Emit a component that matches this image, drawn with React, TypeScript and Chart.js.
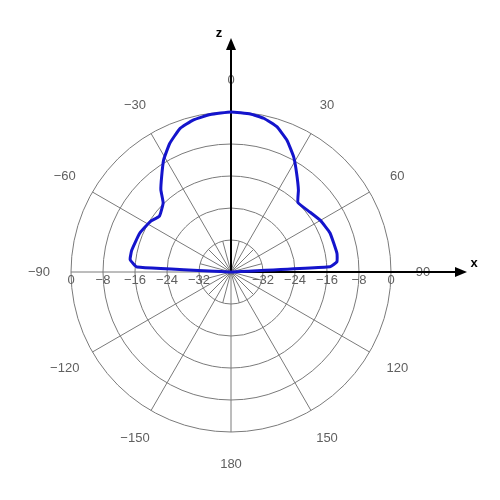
import React, { useEffect, useRef } from "react";
import { Chart, registerables } from "chart.js";

Chart.register(...registerables);

// Radiation pattern (angle from z axis, degrees; gain, dB)
const angleDeg = [-90, -87, -83, -77.5, -67, -58, -52, -44.5, -40.5, -36, -31, -25.5, -19.5, -14, -7.5, 0, 7, 12, 17.5, 23, 28.5, 33.5, 39.5, 44, 53, 60, 68.5, 80, 84.5, 87, 90];
const gainDb = [-40, -16.5, -14.6, -14.6, -15.2, -16.2, -17.3, -15.8, -13.0, -10.5, -7.3, -4.4, -1.9, -0.85, -0.3, 0, -0.2, -0.7, -1.9, -4.2, -7.2, -10.3, -13.5, -15.9, -15.2, -14.2, -13.4, -13.1, -13.4, -15.2, -40];

const MIN_DB = -40;
const ringDb = [-32, -24, -16, -8, 0];
const angleTickLabels = [0, 30, 60, 90, 120, 150, 180, -150, -120, -90, -60, -30];
const minorSpokeStep = 15;
const majorSpokeStep = 30;

const fmt = (v: number) => (v < 0 ? "\u2212" + Math.abs(v) : String(v));

const polarGrid = {
  id: "polarGrid",
  beforeDatasetsDraw(chart: any) {
    const { ctx } = chart;
    const xs = chart.scales.x;
    const ys = chart.scales.y;
    const cx = xs.getPixelForValue(0);
    const cy = ys.getPixelForValue(0);
    const unit = xs.getPixelForValue(1) - cx;
    const R = (db: number) => (db - MIN_DB) * unit;
    const outer = R(0);
    const inner = R(ringDb[0]);
    ctx.save();
    ctx.strokeStyle = "#7a7a7a";
    ctx.lineWidth = 1;
    // rings
    ringDb.forEach((db) => {
      ctx.beginPath();
      ctx.arc(cx, cy, R(db), 0, Math.PI * 2);
      ctx.stroke();
    });
    // spokes
    for (let a = 0; a < 360; a += minorSpokeStep) {
      const len = a % majorSpokeStep === 0 ? outer : inner;
      const t = (a * Math.PI) / 180;
      ctx.beginPath();
      ctx.moveTo(cx, cy);
      ctx.lineTo(cx + len * Math.sin(t), cy - len * Math.cos(t));
      ctx.stroke();
    }
    // ring labels
    ctx.fillStyle = "#606060";
    ctx.font = "13px 'Liberation Sans', Arial, sans-serif";
    ctx.textAlign = "center";
    ctx.textBaseline = "middle";
    ringDb.forEach((db) => {
      const r = R(db);
      ctx.fillText(fmt(db), cx - r, cy + 8);
      ctx.fillText(fmt(db), cx + r, cy + 8);
    });
    // angle labels
    const lr = 48 * unit;
    angleTickLabels.forEach((a) => {
      const t = (a * Math.PI) / 180;
      ctx.fillText(fmt(a), cx + lr * Math.sin(t), cy - lr * Math.cos(t));
    });
    // axes
    ctx.strokeStyle = "#000";
    ctx.fillStyle = "#000";
    ctx.lineWidth = 2;
    const zTip = cy - 58.5 * unit;
    const xTip = cx + 59 * unit;
    ctx.beginPath();
    ctx.moveTo(cx, cy);
    ctx.lineTo(cx, zTip + 10);
    ctx.moveTo(cx, cy);
    ctx.lineTo(xTip - 10, cy);
    ctx.stroke();
    ctx.beginPath();
    ctx.moveTo(cx, zTip);
    ctx.lineTo(cx - 5, zTip + 12);
    ctx.lineTo(cx + 5, zTip + 12);
    ctx.closePath();
    ctx.fill();
    ctx.beginPath();
    ctx.moveTo(xTip, cy);
    ctx.lineTo(xTip - 12, cy - 5);
    ctx.lineTo(xTip - 12, cy + 5);
    ctx.closePath();
    ctx.fill();
    ctx.font = "bold 13px 'Liberation Sans', Arial, sans-serif";
    ctx.fillText("z", cx - 12, zTip - 5);
    ctx.fillText("x", xTip + 7, cy - 9);
    ctx.restore();
  },
};

export default function App() {
  const ref = useRef<HTMLCanvasElement | null>(null);
  useEffect(() => {
    if (!ref.current) return;
    const pts = angleDeg.map((a, i) => {
      const r = Math.max(0, gainDb[i] - MIN_DB);
      const t = (a * Math.PI) / 180;
      return { x: r * Math.sin(t), y: r * Math.cos(t) };
    });
    const chart = new Chart(ref.current, {
      type: "scatter",
      data: {
        datasets: [
          {
            data: pts,
            showLine: true,
            borderColor: "#1414cc",
            borderWidth: 3,
            pointRadius: 0,
            tension: 0.12,
            fill: false,
          },
        ],
      },
      options: {
        animation: false,
        responsive: false,
        layout: { padding: 0 },
        plugins: { legend: { display: false }, tooltip: { enabled: false } },
        scales: {
          x: { type: "linear", display: false, min: -57.75, max: 67.25 },
          y: { type: "linear", display: false, min: -57, max: 68 },
        },
      },
      plugins: [polarGrid],
    });
    return () => chart.destroy();
  }, []);
  return (
    <div style={{ position: "absolute", left: 0, top: 0, width: 500, height: 500, background: "#fff" }}>
      <canvas ref={ref} width={500} height={500} />
    </div>
  );
}
